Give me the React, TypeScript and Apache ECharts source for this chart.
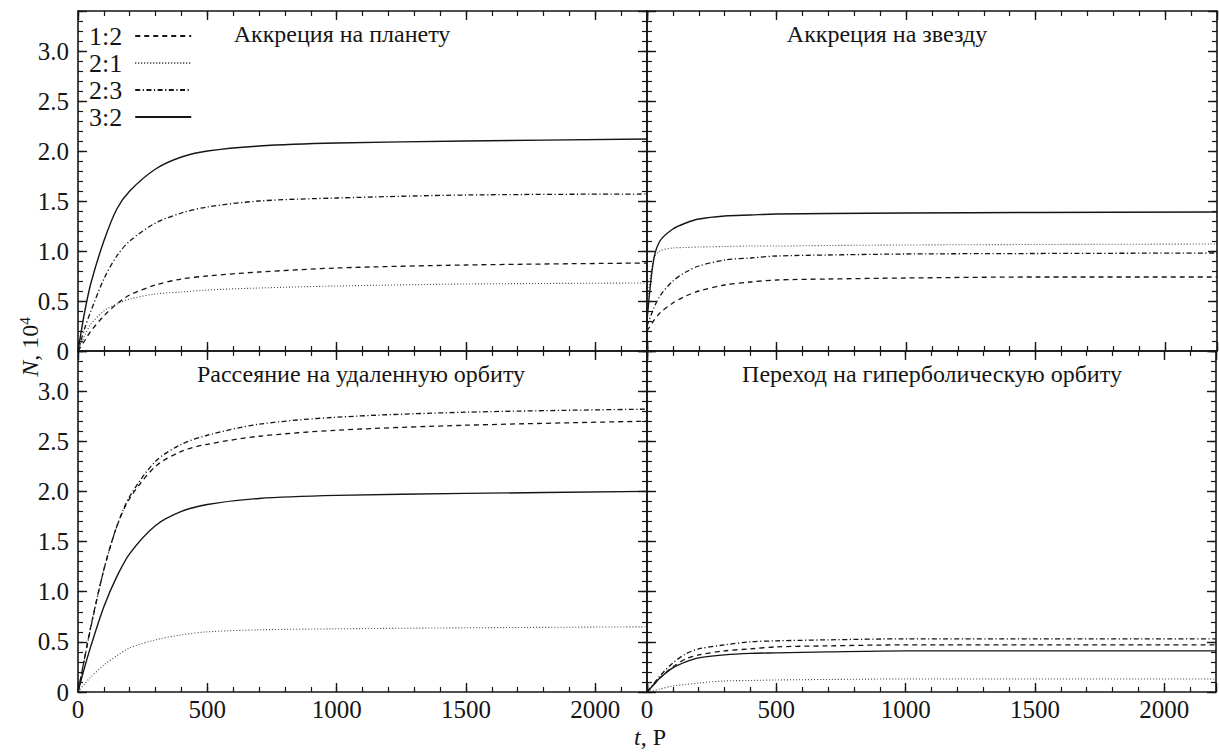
import React, { useEffect, useRef } from 'react';
import * as echarts from 'echarts';

// time grid (orbital periods P)
const T = [0, 25, 50, 100, 150, 200, 300, 400, 500, 700, 1000, 1500, 2200];
const NAMES = ['1:2', '2:1', '2:3', '3:2'];

// Panel A: accretion onto the planet (N, 10^4)
const a12 = [0, 0.1, 0.2, 0.35, 0.47, 0.56, 0.66, 0.72, 0.75, 0.79, 0.83, 0.86, 0.88];
const a21 = [0, 0.15, 0.27, 0.4, 0.47, 0.52, 0.57, 0.59, 0.61, 0.63, 0.65, 0.67, 0.68];
const a23 = [0, 0.22, 0.4, 0.72, 0.95, 1.1, 1.28, 1.38, 1.44, 1.5, 1.53, 1.56, 1.57];
const a32 = [0, 0.38, 0.68, 1.1, 1.42, 1.6, 1.82, 1.94, 2.0, 2.05, 2.08, 2.1, 2.12];

// Panel B: accretion onto the star
const b12 = [0.2, 0.3, 0.38, 0.48, 0.55, 0.6, 0.66, 0.69, 0.71, 0.72, 0.73, 0.74, 0.74];
const b21 = [0.45, 0.92, 1.0, 1.03, 1.035, 1.04, 1.045, 1.05, 1.05, 1.055, 1.06, 1.065, 1.07];
const b23 = [0.25, 0.42, 0.55, 0.7, 0.79, 0.85, 0.91, 0.93, 0.95, 0.96, 0.97, 0.975, 0.98];
const b32 = [0.3, 0.9, 1.1, 1.22, 1.28, 1.32, 1.35, 1.36, 1.37, 1.375, 1.38, 1.385, 1.39];

// Panel C: scattering to a distant orbit
const c12 = [0, 0.33, 0.66, 1.22, 1.65, 1.93, 2.25, 2.4, 2.47, 2.55, 2.61, 2.66, 2.7];
const c21 = [0, 0.08, 0.15, 0.27, 0.36, 0.44, 0.52, 0.57, 0.6, 0.62, 0.63, 0.64, 0.65];
const c23 = [0, 0.33, 0.65, 1.22, 1.65, 1.95, 2.3, 2.47, 2.56, 2.67, 2.74, 2.79, 2.82];
const c32 = [0, 0.24, 0.46, 0.85, 1.15, 1.38, 1.66, 1.8, 1.87, 1.93, 1.96, 1.98, 2.0];

// Panel D: transition to a hyperbolic orbit
const d12 = [0, 0.07, 0.14, 0.25, 0.33, 0.37, 0.41, 0.43, 0.45, 0.46, 0.47, 0.47, 0.47];
const d21 = [0, 0.015, 0.03, 0.06, 0.075, 0.09, 0.11, 0.115, 0.12, 0.125, 0.13, 0.13, 0.13];
const d23 = [0, 0.08, 0.16, 0.29, 0.38, 0.43, 0.47, 0.5, 0.51, 0.52, 0.53, 0.53, 0.53];
const d32 = [0, 0.07, 0.14, 0.24, 0.3, 0.34, 0.37, 0.385, 0.39, 0.4, 0.41, 0.41, 0.41];

const TITLES = [
  'Аккреция на планету',
  'Аккреция на звезду',
  'Рассеяние на удаленную орбиту',
  'Переход на гиперболическую орбиту',
];
const PANEL_DATA = [
  [a12, a21, a23, a32],
  [b12, b21, b23, b32],
  [c12, c21, c23, c32],
  [d12, d21, d23, d32],
];

const FONT = 'Liberation Serif';
const INK = '#151515';

const GRIDS = [
  { left: 78, top: 11, width: 569, height: 340 },
  { left: 647, top: 11, width: 570, height: 340 },
  { left: 78, top: 351, width: 569, height: 341 },
  { left: 647, top: 351, width: 570, height: 341 },
];
const TITLE_POS = [
  [342, 34],
  [887, 34],
  [361, 374],
  [932, 374],
];

const LINE_TYPES: any[] = [
  { type: [5, 4], width: 1.3, color: INK },
  { type: [1, 2], width: 1.1, color: '#444' },
  { type: [5, 2.5, 1.2, 2.5], width: 1.3, color: INK },
  { type: 'solid', width: 1.4, color: INK },
];

function xFmt(v: number) {
  return v % 500 === 0 ? String(v) : '';
}
function yFmt(v: number) {
  const r = Math.round(v * 2);
  if (Math.abs(v * 2 - r) > 1e-6) return '';
  return r === 0 ? '0' : (r / 2).toFixed(1);
}

const LABEL_STYLE = {
  fontFamily: FONT,
  fontSize: 25,
  color: INK,
};

function makeX(gi: number, labels: boolean) {
  const base = {
    type: 'value',
    gridIndex: gi,
    min: 0,
    max: 2200,
    splitLine: { show: false },
  };
  const res: any[] = [];
  for (const pos of ['bottom', 'top']) {
    res.push({
      ...base,
      position: pos,
      interval: 500,
      axisLine: { show: true, onZero: false, lineStyle: { color: INK, width: 1.6 } },
      axisTick: { show: true, inside: true, length: 9, lineStyle: { color: INK, width: 1.4 } },
      axisLabel: {
        show: labels && pos === 'bottom',
        formatter: xFmt,
        ...LABEL_STYLE,
        margin: 5,
      },
    });
    res.push({
      ...base,
      position: pos,
      interval: 100,
      axisLine: { show: false, onZero: false },
      axisTick: { show: true, inside: true, length: 5, lineStyle: { color: INK, width: 1.2 } },
      axisLabel: { show: false },
    });
  }
  return res;
}

function makeY(gi: number, labels: boolean) {
  const base = {
    type: 'value',
    gridIndex: gi,
    min: 0,
    max: 3.4,
    splitLine: { show: false },
  };
  const res: any[] = [];
  for (const pos of ['left', 'right']) {
    res.push({
      ...base,
      position: pos,
      interval: 0.5,
      axisLine: { show: true, onZero: false, lineStyle: { color: INK, width: 1.6 } },
      axisTick: { show: true, inside: true, length: 9, lineStyle: { color: INK, width: 1.4 } },
      axisLabel: {
        show: labels && pos === 'left',
        formatter: yFmt,
        ...LABEL_STYLE,
        margin: 9,
      },
    });
    res.push({
      ...base,
      position: pos,
      interval: 0.1,
      axisLine: { show: false, onZero: false },
      axisTick: { show: true, inside: true, length: 5, lineStyle: { color: INK, width: 1.2 } },
      axisLabel: { show: false },
    });
  }
  return res;
}

export default function App() {
  const ref = useRef<HTMLDivElement>(null);
  useEffect(() => {
    if (!ref.current) return;
    const chart = echarts.init(ref.current, undefined, { renderer: 'svg' });

    const xAxis: any[] = [];
    const yAxis: any[] = [];
    for (let gi = 0; gi < 4; gi++) {
      xAxis.push(...makeX(gi, gi >= 2));
      yAxis.push(...makeY(gi, gi % 2 === 0));
    }

    const series: any[] = [];
    PANEL_DATA.forEach((set, gi) => {
      set.forEach((vals, si) => {
        series.push({
          type: 'line',
          name: NAMES[si],
          xAxisIndex: gi * 4,
          yAxisIndex: gi * 4,
          data: T.map((t, k) => [t, vals[k]]),
          showSymbol: false,
          symbol: 'none',
          smooth: 0.3,
          lineStyle: LINE_TYPES[si],
          itemStyle: { color: LINE_TYPES[si].color },
          z: 2,
        });
      });
    });

    const graphic: any[] = TITLES.map((t, i) => ({
      type: 'text',
      x: TITLE_POS[i][0],
      y: TITLE_POS[i][1],
      style: {
        text: t,
        fontFamily: FONT,
        fontSize: 24,
        fill: INK,
        textAlign: 'center',
        textVerticalAlign: 'middle',
      },
    }));
    graphic.push({
      type: 'text',
      x: 30,
      y: 347,
      rotation: Math.PI / 2,
      style: {
        text: '{i|N}, 10{s|4}',
        fontFamily: FONT,
        fontSize: 24,
        fill: INK,
        textAlign: 'center',
        textVerticalAlign: 'middle',
        rich: {
          i: { fontStyle: 'italic', fontFamily: FONT, fontSize: 24, fill: INK },
          s: { fontFamily: FONT, fontSize: 15, fill: INK, padding: [0, 0, 10, 0] },
        },
      },
    });
    graphic.push({
      type: 'text',
      x: 650,
      y: 737,
      style: {
        text: '{i|t}, P',
        fontFamily: FONT,
        fontSize: 24,
        fill: INK,
        textAlign: 'center',
        textVerticalAlign: 'middle',
        rich: {
          i: { fontStyle: 'italic', fontFamily: FONT, fontSize: 24, fill: INK },
        },
      },
    });

    chart.setOption({
      animation: false,
      backgroundColor: '#ffffff',
      textStyle: { fontFamily: FONT },
      grid: GRIDS.map((g) => ({ ...g, containLabel: false })),
      xAxis,
      yAxis,
      legend: {
        data: NAMES,
        orient: 'vertical',
        left: 84,
        top: 18,
        align: 'right',
        itemWidth: 56,
        itemHeight: 12,
        itemGap: 1,
        selectedMode: false,
        itemStyle: { opacity: 0 },
        textStyle: {
          fontFamily: FONT,
          fontSize: 26,
          color: INK,
          lineHeight: 24,
          padding: [0, 8, 0, 0],
        },
      },
      graphic,
      series,
    });
    return () => chart.dispose();
  }, []);
  return (
    <div
      ref={ref}
      style={{ position: 'absolute', left: 0, top: 0, width: 1219, height: 755, background: '#fff' }}
    />
  );
}
